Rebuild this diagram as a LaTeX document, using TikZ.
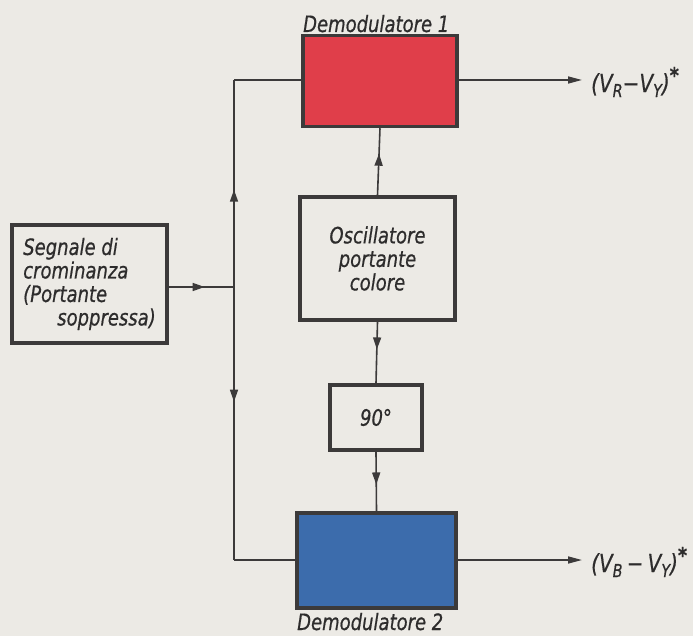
\documentclass[tikz,border=0pt]{standalone}
\usepackage{fontspec}
\setmainfont{DejaVu Sans}[FakeStretch=0.8,FakeBold=0.6]
\usetikzlibrary{arrows.meta,decorations.markings}
\definecolor{bg}{RGB}{236,234,229}
\definecolor{ink}{RGB}{60,58,58}
\definecolor{txt}{RGB}{45,44,44}
\definecolor{redfill}{RGB}{224,62,74}
\definecolor{bluefill}{RGB}{60,108,172}
\newcommand{\subsc}[1]{\raisebox{-5pt}{\fontsize{18}{18}\selectfont #1}}
\newcommand{\astr}{\raisebox{9pt}{\fontsize{22}{22}\selectfont\bfseries *}}
\begin{document}
\begin{tikzpicture}[x=1pt,y=-1pt,
  box/.style={draw=ink,line width=3.5pt,inner sep=0pt,text=txt,
    font=\itshape\fontsize{22.5}{23.5}\selectfont},
  lbl/.style={text=txt,inner sep=0pt,font=\itshape\fontsize{22.5}{23.5}\selectfont},
  outlbl/.style={text=txt,inner xsep=9pt,inner ysep=0pt,font=\itshape\fontsize{25}{26}\selectfont},
  conn/.style={draw=ink,line width=1.6pt},
  midarrow/.style={postaction={decorate},decoration={markings,
    mark=at position #1 with {\arrow{Triangle[length=12pt,width=8pt]}}}},
  endarrow/.style={-{Triangle[length=14pt,width=7pt]}}]
\fill[bg] (0,0) rectangle (693,636);
\useasboundingbox (0,0) rectangle (693,636);
% boxes
\node[box,minimum width=155pt,minimum height=118pt,align=left] (seg) at (89.5,284)
  {Segnale di\\crominanza\\(Portante\\\hspace*{34pt}soppressa)};
\node[box,fill=redfill,minimum width=154pt,minimum height=91pt] (d1) at (380,81) {};
\node[box,minimum width=155pt,minimum height=123pt,align=center] (osc) at (377.5,258.5)
  {Oscillatore\\portante\\colore};
\node[box,minimum width=92pt,minimum height=65pt] (ph) at (376,417.5) {90°};
\node[box,fill=bluefill,minimum width=159pt,minimum height=95pt] (d2) at (376.5,560.5) {};
% labels
\node[lbl,anchor=base west] (l1) at (303,32) {Demodulatore 1};
\node[lbl,anchor=base west] (l2) at (297,630) {Demodulatore 2};
\node[outlbl,anchor=west] (r1) at (582,82)
  {(V\subsc{R}−V\subsc{Y})\astr};
\node[outlbl,anchor=west] (r2) at (582,562)
  {(V\subsc{B}\,−\,V\subsc{Y})\astr};
% junction coordinates
\coordinate (j) at (234,287);
\coordinate (t) at (234,80);
\coordinate (b) at (234,560);
% connectors
\draw[conn,midarrow=0.55] (seg.east |- j) -- (j);
\draw[conn,midarrow=0.47] (j) -- (t);
\draw[conn] (t) -- (t -| d1.west);
\draw[conn,midarrow=0.42] (j) -- (b);
\draw[conn] (b) -- (b -| d2.west);
\draw[conn,midarrow=0.62] (osc.north) -- (d1.south);
\draw[conn,midarrow=0.45] (osc.south) -- (ph.north);
\draw[conn,midarrow=0.55] (ph.south) -- (d2.north);
\draw[conn,endarrow] (d1.east |- t) -- (r1.west |- t);
\draw[conn,endarrow] (d2.east |- b) -- (r2.west |- b);
\end{tikzpicture}
\end{document}
